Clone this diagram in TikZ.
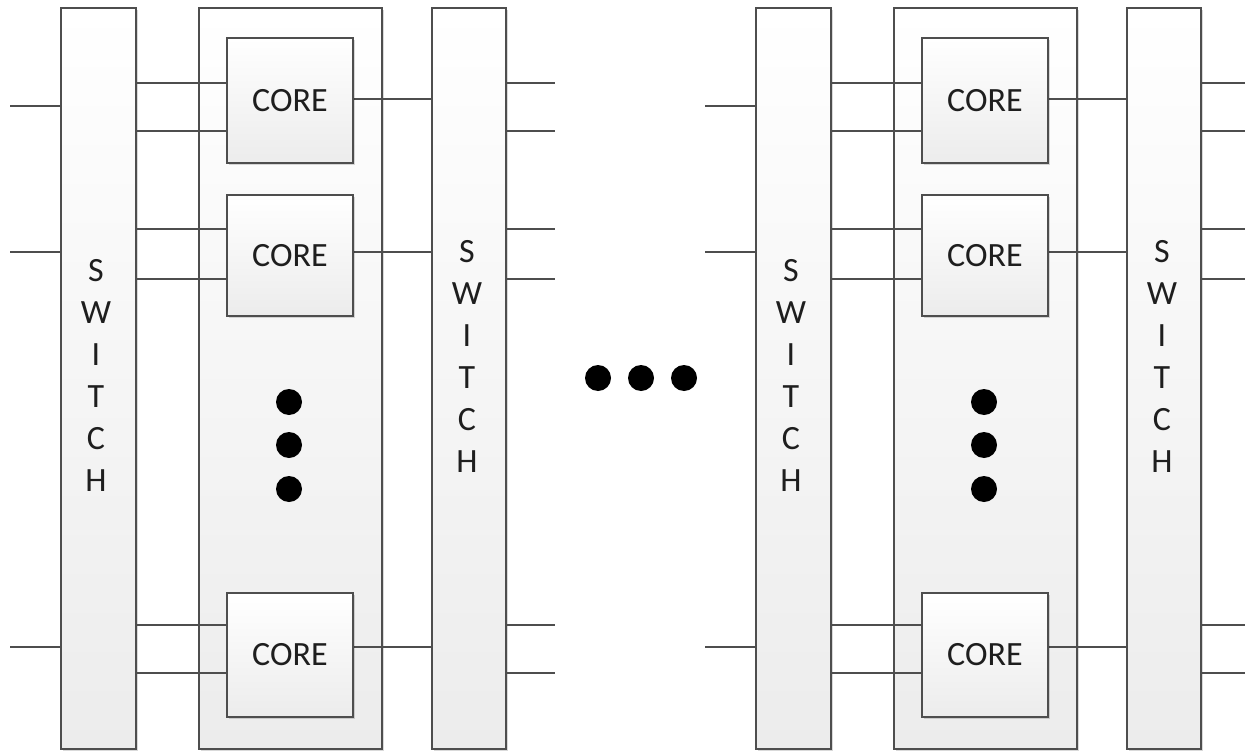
\documentclass[tikz,border=0pt]{standalone}
\usepackage{fontspec}
\setmainfont{Carlito}
\usetikzlibrary{shadows}
\definecolor{edge}{RGB}{78,78,78}
\definecolor{fillbot}{RGB}{236,236,236}
\definecolor{ink}{RGB}{30,30,30}
\begin{document}
\begin{tikzpicture}[x=1pt,y=-1pt,
  box/.style={draw=edge, line width=1.8pt, top color=white, bottom color=fillbot,
    inner sep=0pt, anchor=north west,
    drop shadow={shadow xshift=2.5pt, shadow yshift=-2.5pt, opacity=.15, fill=black}},
  wire/.style={draw=edge, line width=1.8pt},
  lbl/.style={font=\fontsize{34}{42}\selectfont, text=ink, align=center, inner sep=0pt},
  dot/.style={circle, fill=black, inner sep=0pt, minimum size=26pt}]
\useasboundingbox (0,0) rectangle (1245,752);

% two identical blocks: switch | core column | switch
\foreach \b/\dx/\fx in {L/0/555, R/695/1245} {
  % switches and the core column
  \node[box, minimum width=75pt, minimum height=741pt] (\b-sw1) at (\dx+60,7) {};
  \node[box, minimum width=74pt, minimum height=741pt] (\b-sw2) at (\dx+431,7) {};
  \node[box, minimum width=183pt, minimum height=741pt] (\b-col) at (\dx+198,7) {};

  % inputs into the first switch
  \foreach \i/\y in {1/106, 2/252, 3/647} {
    \coordinate (\b-in\i) at (\dx+10,\y);
    \draw[wire] (\b-in\i) -- (\b-in\i -| \b-sw1.west);
  }

  % core positions (left edge column is shared)
  \coordinate (\b-p1) at (\dx+226,37);
  \coordinate (\b-p2) at (\dx+226,194);
  \coordinate (\b-p3) at (\dx+226,592);

  % wiring around each core
  \foreach \k/\ya/\yb/\yo in {1/83/131/99, 2/229/279/252, 3/625/673/647} {
    \coordinate (\b-a\k) at (\dx+226,\ya);
    \coordinate (\b-b\k) at (\dx+226,\yb);
    \coordinate (\b-o\k) at (\dx+352,\yo);
    \coordinate (\b-qa\k) at (\fx,\ya);
    \coordinate (\b-qb\k) at (\fx,\yb);
    \draw[wire] (\b-a\k -| \b-sw1.east) -- (\b-a\k);
    \draw[wire] (\b-b\k -| \b-sw1.east) -- (\b-b\k);
    \draw[wire] (\b-o\k) -- (\b-o\k -| \b-sw2.west);
    \draw[wire] (\b-qa\k -| \b-sw2.east) -- (\b-qa\k);
    \draw[wire] (\b-qb\k -| \b-sw2.east) -- (\b-qb\k);
  }

  % the cores
  \node[box, minimum width=126pt, minimum height=125pt, lbl] (\b-c1) at (\b-p1) {CORE};
  \node[box, minimum width=126pt, minimum height=121pt, lbl] (\b-c2) at (\b-p2) {CORE};
  \node[box, minimum width=126pt, minimum height=124pt, lbl] (\b-c3) at (\b-p3) {CORE};

  % switch captions
  \node[lbl] (\b-t1) at (\dx+96,375) {S\\W\\I\\T\\C\\H};
  \node[lbl] (\b-t2) at (\dx+467,356) {S\\W\\I\\T\\C\\H};

  % elided cores
  \node[dot] (\b-d1) at (\dx+289,402) {};
  \node[dot] (\b-d2) at (\dx+289,445) {};
  \node[dot] (\b-d3) at (\dx+289,489) {};
}

% elided blocks
\node[dot] (m1) at (598,378) {};
\node[dot] (m2) at (641,378) {};
\node[dot] (m3) at (684,378) {};
\end{tikzpicture}
\end{document}
